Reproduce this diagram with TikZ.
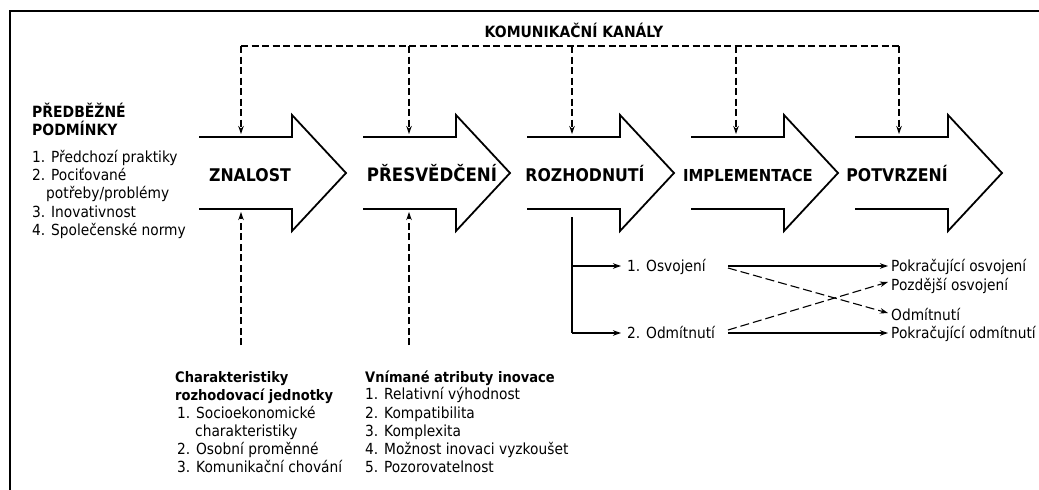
\documentclass[tikz,border=0pt]{standalone}
\usepackage{fontspec}
\setmainfont{DejaVu Sans}[FakeStretch=0.9]
\usetikzlibrary{arrows.meta}
\begin{document}
\begin{tikzpicture}[x=1pt,y=-1pt,
  frame/.style={line width=2.6pt},
  bigarrow/.style={line width=1.8pt, line join=miter},
  chan/.style={line width=1.1pt, dash pattern=on 7pt off 3.5pt},
  tipped/.style={-{Stealth[length=8pt,width=5.5pt]}},
  solidc/.style={line width=1.1pt},
  stage/.style={font=\fontsize{17.5}{20}\selectfont\bfseries, inner sep=0pt, anchor=base},
  head/.style={font=\fontsize{15.5}{18}\selectfont\bfseries, inner sep=0pt, anchor=base west},
  subhead/.style={font=\fontsize{14.5}{18}\selectfont\bfseries, inner sep=0pt, anchor=base west},
  item/.style={font=\fontsize{15.3}{18}\selectfont, inner sep=0pt, anchor=base west},
]
\useasboundingbox (0,0) rectangle (1039,490);
\fill[white] (0,0) rectangle (1039,490);
\draw[frame] (10,490) -- (10,11) -- (1039,11);

% big stage arrows (open on the left)
\foreach \xo in {199,363,527,691,855}{
  \draw[bigarrow] (\xo,137) -- ({\xo+93},137) -- ({\xo+93},115) -- ({\xo+147},173)
     -- ({\xo+93},231) -- ({\xo+93},209) -- (\xo,209);
}
\node[stage] (znalost) at (250,181) {ZNALOST};
\node[stage, font=\fontsize{18.5}{20}\selectfont\bfseries] (presv) at (432,181) {PŘESVĚDČENÍ};
\node[stage] (rozh) at (585,181) {ROZHODNUTÍ};
\node[stage, font=\fontsize{16.5}{20}\selectfont\bfseries] (impl) at (748,181) {IMPLEMENTACE};
\node[stage] (potv) at (897,181) {POTVRZENÍ};

% communication channels
\node[head, anchor=base] (kom) at (574,37) {KOMUNIKAČNÍ KANÁLY};
\coordinate (c1) at (241,46);
\coordinate (c2) at (409,46);
\coordinate (c3) at (572,46);
\coordinate (c4) at (736,46);
\coordinate (c5) at (899,46);
\coordinate (t1) at (241,134);
\coordinate (t2) at (409,134);
\coordinate (t3) at (572,134);
\coordinate (t4) at (736,134);
\coordinate (t5) at (899,134);
\draw[chan] (c1) -- (c5);
\foreach \i in {1,...,5}{ \draw[chan,tipped] (c\i) -- (t\i); }

% lower inputs
\coordinate (u1) at (241,345);
\coordinate (u2) at (409,345);
\coordinate (v1) at (241,212);
\coordinate (v2) at (409,212);
\draw[chan,tipped] (u1) -- (v1);
\draw[chan,tipped] (u2) -- (v2);

% prior conditions
\node[head] (pre1) at (32,117) {PŘEDBĚŽNÉ};
\node[head] (pre2) at (32,135) {PODMÍNKY};
\node[item] (p1) at (32,162) {1. Předchozí praktiky};
\node[item] (p2) at (32,180) {2. Pociťované};
\node[item] (p2b) at (46,198) {potřeby/problémy};
\node[item] (p3) at (32,217) {3. Inovativnost};
\node[item] (p4) at (32,235) {4. Společenské normy};

% characteristics of decision unit
\node[subhead] (ch1) at (175,382) {Charakteristiky};
\node[subhead] (ch2) at (175,400) {rozhodovací jednotky};
\node[item] (ci1) at (177,418) {1. Socioekonomické};
\node[item] (ci1b) at (195,436) {charakteristiky};
\node[item] (ci2) at (177,454) {2. Osobní proměnné};
\node[item] (ci3) at (177,472) {3. Komunikační chování};

% perceived attributes
\node[subhead] (at0) at (365,382) {Vnímané atributy inovace};
\node[item] (at1) at (365,399) {1. Relativní výhodnost};
\node[item] (at2) at (365,418) {2. Kompatibilita};
\node[item] (at3) at (365,436) {3. Komplexita};
\node[item] (at4) at (365,454) {4. Možnost inovaci vyzkoušet};
\node[item] (at5) at (365,472) {5. Pozorovatelnost};

% decision branches
\node[item] (osv) at (627,271) {1. Osvojení};
\node[item] (odm) at (627,338) {2. Odmítnutí};
\node[item] (r1) at (891,271) {Pokračující osvojení};
\node[item] (r2) at (891,290) {Pozdější osvojení};
\node[item] (r3) at (891,320) {Odmítnutí};
\node[item] (r4) at (891,338) {Pokračující odmítnutí};

\coordinate (d0) at (572,217);
\coordinate (d1) at (572,266);
\coordinate (d2) at (572,333);
\coordinate (e1) at (621,266);
\coordinate (e2) at (621,333);
\draw[solidc] (d0) -- (d2);
\draw[solidc,tipped] (d1) -- (e1);
\draw[solidc,tipped] (d2) -- (e2);

\coordinate (s1) at (728,266);
\coordinate (s1b) at (728,268);
\coordinate (s2) at (728,333);
\coordinate (s2b) at (728,330);
\coordinate (f1) at (888,266);
\coordinate (f2) at (888,282);
\coordinate (f3) at (888,313);
\coordinate (f4) at (888,333);
\draw[solidc,tipped] (s1) -- (f1);
\draw[solidc,tipped] (s2) -- (f4);
\draw[solidc,dash pattern=on 9pt off 4pt,tipped] (s1b) -- (f3);
\draw[solidc,dash pattern=on 9pt off 4pt,tipped] (s2b) -- (f2);
\end{tikzpicture}
\end{document}
